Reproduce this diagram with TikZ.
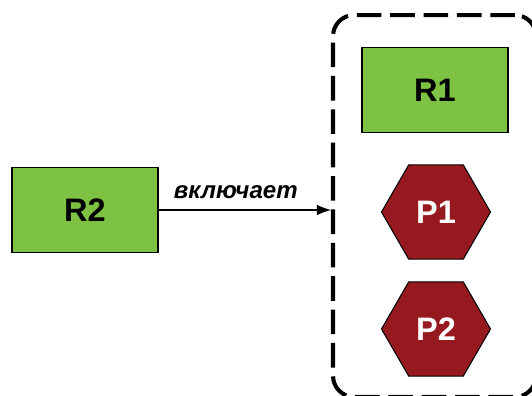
\documentclass[tikz,border=0pt]{standalone}
\usepackage{fontspec}
\setmainfont{Liberation Sans}
\usetikzlibrary{shapes.geometric,arrows.meta}
\definecolor{boxgreen}{RGB}{125,194,66}
\definecolor{hexred}{RGB}{150,25,32}
\begin{document}
\begin{tikzpicture}[x=0.02cm, y=-0.02cm,
	rolebox/.style={draw, fill=boxgreen, line width=0.6pt, minimum width=2.92cm, minimum height=1.7cm, font=\bfseries\fontsize{18.5}{22}\selectfont},
	prochex/.style={regular polygon, regular polygon sides=6, draw, fill=hexred, line width=0.6pt, inner sep=0pt, minimum size=2.18cm, text=white, font=\bfseries\fontsize{18.5}{22}\selectfont}]
	\useasboundingbox (0,0) rectangle (532,396);
	\node[draw, dashed, line width=2.3pt, dash pattern=on 14pt off 5pt, rounded corners=12pt, minimum width=4.06cm, minimum height=7.64cm] (grp) at (434.5,206) {};
	\node[rolebox] (r1) at (435,90) {R1};
	\node[rolebox] (r2) at (85,210) {R2};
	\foreach \n/\y in {1/212, 2/329}
		\node[prochex] (p\n) at (436,\y) {P\n};
	\draw[-{Latex[length=8pt, width=6pt]}, line width=0.6pt] (r2.east) -- (r2.east -| grp.west) node[midway, above=3pt, xshift=-0.18cm, font=\bfseries\itshape\fontsize{13.7}{16}\selectfont] {включает};
\end{tikzpicture}
\end{document}
